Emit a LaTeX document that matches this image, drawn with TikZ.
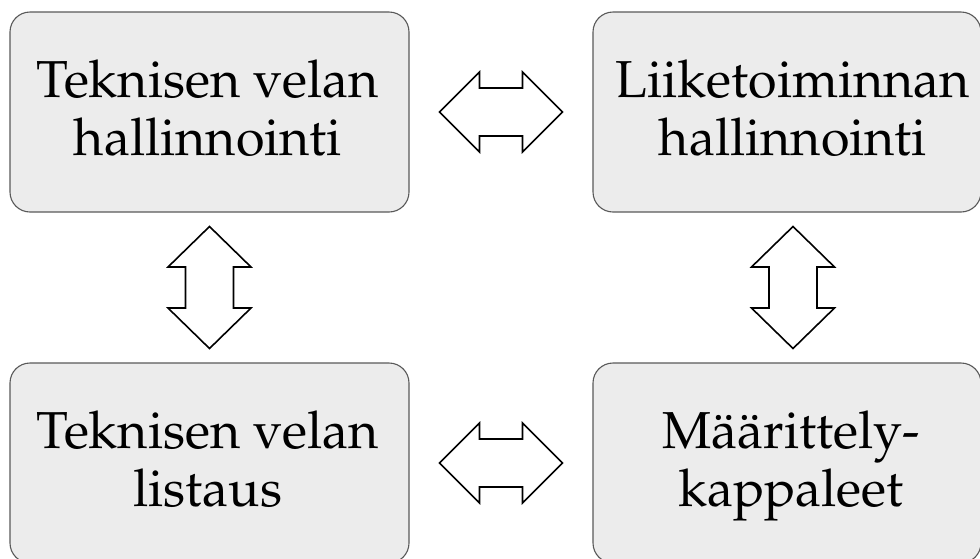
\documentclass[tikz,border=0pt]{standalone}
\IfFileExists{mathpazo.sty}{\usepackage[T1]{fontenc}\usepackage{mathpazo}}
  {\usepackage{fontspec}\setmainfont{Liberation Serif}}
\usetikzlibrary{calc}

% Outline of a double-headed block arrow, centred on a named coordinate
\newcommand\hdarrow[1]{%
  \draw[blockarrow,shift={(#1)}]
    (-61.5,0) -- (-21.5,-40) -- (-21.5,-24) -- (21.5,-24) -- (21.5,-40)
    -- (61.5,0) -- (21.5,40) -- (21.5,24) -- (-21.5,24) -- (-21.5,40) -- cycle;}
\newcommand\vdarrow[1]{%
  \draw[blockarrow,shift={(#1)}]
    (0,-61) -- (41.5,-20.5) -- (24,-20.5) -- (24,20.5) -- (41.5,20.5)
    -- (0,61) -- (-41.5,20.5) -- (-24,20.5) -- (-24,-20.5) -- (-41.5,-20.5) -- cycle;}

\begin{document}
\begin{tikzpicture}[x=1pt,y=-1pt,
  box/.style={draw=black!65,line width=1.1pt,fill=black!7.5,
    rounded corners=20pt,inner sep=0pt},
  caption/.style={anchor=north,inner sep=0pt,align=center,
    font=\fontsize{52}{58}\selectfont},
  blockarrow/.style={draw=black,line width=1.6pt,line join=miter,fill=white}]
\useasboundingbox (0,0) rectangle (980,558);
\clip (0,0) rectangle (980,558);

% boxes
\node[box,minimum width=399pt,minimum height=200pt] (tl) at (209.5,112) {};
\node[box,minimum width=388pt,minimum height=200pt] (tr) at (787,112) {};
\node[box,minimum width=399pt,minimum height=200pt] (bl) at (209.5,463) {};
\node[box,minimum width=388pt,minimum height=200pt] (br) at (787,463) {};

% captions
\node[caption] (tlt) at (208,60) {Teknisen velan\\hallinnointi};
\node[caption] (trt) at (793,60) {Liiketoiminnan\\hallinnointi};
\node[caption] (blt) at (208,411) {Teknisen velan\\listaus};
\node[caption] (brt) at (791,411) {M\"a\"arittely-\\kappaleet};

% connecting double arrows
\coordinate (top) at ($(tl.east)!0.5!(tr.west)$);
\coordinate (bottom) at ($(bl.east)!0.5!(br.west)$);
\coordinate (left) at ($(tl.south)!0.5!(bl.north)$);
\coordinate (right) at ($(trt.south |- tr.south)!0.5!(trt.south |- br.north)$);
\hdarrow{top}
\hdarrow{bottom}
\vdarrow{left}
\vdarrow{right}
\end{tikzpicture}
\end{document}
